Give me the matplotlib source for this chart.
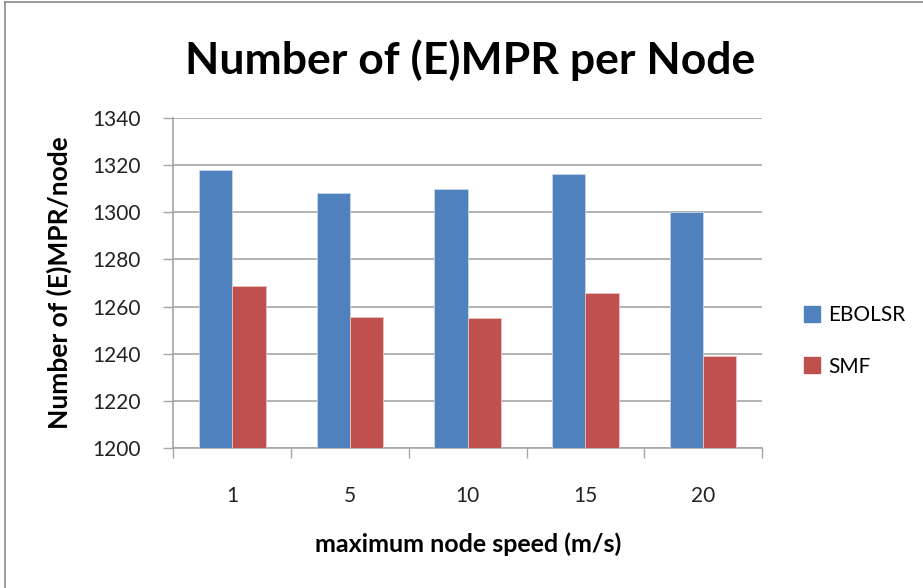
import numpy as np
import matplotlib
matplotlib.use('Agg')
import matplotlib.pyplot as plt
from matplotlib.lines import Line2D

# Chart data
speeds = ['1', '5', '10', '15', '20']
ebolsr = [1318, 1308, 1310, 1316.3, 1300]
smf = [1268.6, 1255.5, 1255, 1265.8, 1239.2]
y_ticks = [1200, 1220, 1240, 1260, 1280, 1300, 1320, 1340]

plt.rcParams['font.family'] = ['Lato', 'DejaVu Sans']

fig = plt.figure(figsize=(9.23, 5.88), dpi=100)
ax = fig.add_axes([0.1878, 0.2376, 0.8256 - 0.1878, 0.7998 - 0.2376])

x = np.arange(len(speeds))
w = 0.283
grid_col = '#a6a6a6'

ax.bar(x - w / 2, ebolsr, w, color='#4f81bd', edgecolor='#c5d6ec',
       linewidth=0.6, zorder=3, label='EBOLSR')
ax.bar(x + w / 2, smf, w, color='#c0504d', edgecolor='#ebc4c3',
       linewidth=0.6, zorder=3, label='SMF')

ax.set_xlim(-0.5, len(speeds) - 0.5)
ax.set_ylim(1200, 1340)
ax.set_yticks(y_ticks)
ax.yaxis.grid(True, color=grid_col, linewidth=1.2, zorder=0)

# category labels at the centres, ticks at the boundaries
ax.set_xticks(x)
ax.set_xticklabels(speeds, fontsize=15, color='#222222')
ax.tick_params(axis='x', length=0, pad=27)
ax.set_xticks(np.arange(len(speeds) + 1) - 0.5, minor=True)
ax.tick_params(axis='x', which='minor', length=7, width=1, color=grid_col)
ax.tick_params(axis='y', length=7, width=1, color=grid_col, labelsize=15,
               labelcolor='#222222', pad=16.8)

for s in ['top', 'right']:
    ax.spines[s].set_visible(False)
for s in ['left', 'bottom']:
    ax.spines[s].set_color(grid_col)
    ax.spines[s].set_linewidth(1.2)

ax.set_xlabel('maximum node speed (m/s)', fontsize=18, fontweight='bold',
              labelpad=19)
ax.set_ylabel('Number of (E)MPR/node', fontsize=19, fontweight='bold',
              labelpad=14)

fig.text(0.509, 0.898, 'Number of (E)MPR per Node', fontsize=32,
         fontweight='bold', ha='center', va='center')

# legend on the right side
handles = [Line2D([], [], marker='s', linestyle='none', markersize=11,
                  color=c) for c in ('#4f81bd', '#c0504d')]
fig.legend(handles, ['EBOLSR', 'SMF'], loc='center left',
           bbox_to_anchor=(0.848, 0.42), frameon=False, fontsize=15,
           handletextpad=0.3, labelspacing=1.5, handlelength=1.0)

# chart area border (top and left edges)
fig.add_artist(Line2D([0.005, 0.005], [0, 0.997], color='#8c8c8c',
                      linewidth=1.2, transform=fig.transFigure))
fig.add_artist(Line2D([0.005, 1], [0.997, 0.997], color='#8c8c8c',
                      linewidth=1.2, transform=fig.transFigure))

fig.savefig('out.png', dpi=100)
